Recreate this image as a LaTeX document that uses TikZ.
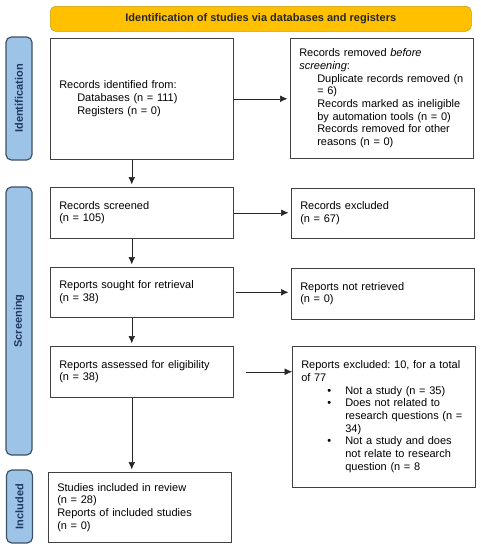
\documentclass[tikz,border=0pt]{standalone}
\usepackage{fontspec}
\setmainfont{Liberation Sans}
\usepackage{tikz}
\usepackage{xcolor}
\usetikzlibrary{arrows.meta}
\frenchspacing
\definecolor{headyellow}{HTML}{FFC000}
\definecolor{headedge}{HTML}{C99A00}
\definecolor{phaseblue}{HTML}{9DC3E6}
\definecolor{phaseedge}{HTML}{3F5166}
\definecolor{phasetext}{HTML}{1F3864}
\newcommand{\flowfont}{\fontsize{8.25}{9.5}\selectfont}
\newcommand{\subline}{\hspace*{13.5pt}}
\newcommand{\bulline}{\hspace*{19.5pt}\makebox[13.5pt][l]{\textbullet}}
\newcommand{\bulcont}{\hspace*{33pt}}
\tikzset{
    flow-box/.style = {draw=black!75, fill=white, thin, rectangle, anchor=north west, text width=123.75pt, inner xsep=6.75pt, inner ysep=2pt, align=left, font=\flowfont},
    phase-box/.style = {draw=phaseedge, fill=phaseblue, line width=0.9pt, rounded corners=4pt, rotate=90, minimum height=19.5pt, inner sep=0pt, text=phasetext, font=\flowfont\bfseries},
    title-box/.style = {draw=headedge, fill=headyellow, rounded corners=4pt, anchor=north west, minimum width=315.75pt, minimum height=18.75pt, inner sep=0pt, text=black!85, font=\flowfont\bfseries},
    flow-arrow/.style = {draw=black!85, thin, -{Latex[length=5.5pt,width=5pt]}},
}
\begin{document}
\begin{tikzpicture}[x=0.75pt, y=-0.75pt]
\useasboundingbox (0,0) rectangle (481,550);
\node[title-box] (title) at (50,6) {Identification of studies via databases and registers};
% phases
\node[phase-box, minimum width=92.25pt] (ident) at (19,98.5) {Identification};
\node[phase-box, minimum width=201pt] (screen) at (19,321) {Screening};
\node[phase-box, minimum width=54.75pt] (incl) at (19.5,506.5) {Included};
% left column
\node[flow-box, minimum height=90.75pt] (found) at (50,38) {Records identified from:\\
    \subline Databases (n = 111)\\
    \subline Registers (n = 0)};
\node[flow-box, minimum height=38.25pt] (screened) at (50,187) {Records screened\\(n = 105)};
\node[flow-box, minimum height=37.5pt] (sought) at (50,267) {Reports sought for retrieval\\(n = 38)};
\node[flow-box, minimum height=38.25pt] (assessed) at (50,346) {Reports assessed for eligibility\\(n = 38)};
\node[flow-box, minimum height=52.5pt] (included) at (48,472) {Studies included in review\\(n = 28)\\Reports of included studies\\(n = 0)};
% right column
\node[flow-box, minimum height=90pt] (removed) at (290,38) {Records removed \textit{before}\\
    \textit{screening}:\\
    \subline Duplicate records removed (n\\
    \subline = 6)\\
    \subline Records marked as ineligible\\
    \subline by automation tools (n = 0)\\
    \subline Records removed for other\\
    \subline reasons (n = 0)};
\node[flow-box, minimum height=37.5pt] (excluded) at (291,188) {Records excluded\\(n = 67)};
\node[flow-box, minimum height=38.25pt] (notret) at (291,268) {Reports not retrieved\\(n = 0)};
\node[flow-box, minimum height=105.75pt] (repexcl) at (292,346) {Reports excluded: 10, for a total\\
    of 77\\
    \bulline Not a study (n = 35)\\
    \bulline Does not related to\\
    \bulcont research questions (n =\\
    \bulcont 34)\\
    \bulline Not a study and does\\
    \bulcont not relate to research\\
    \bulcont question (n = 8};
% arrows
\draw[flow-arrow] (found.east) -- ([xshift=-2pt]found.east -| removed.west);
\draw[flow-arrow] (screened.east) -- ([xshift=-2pt]screened.east -| excluded.west);
\draw[flow-arrow] ([xshift=1.5pt]sought.east) -- ([xshift=-2pt]sought.east -| notret.west);
\draw[flow-arrow] ([xshift=9pt]assessed.east) -- (assessed.east -| repexcl.west);
\draw[flow-arrow] ([xshift=-7.5pt]found.south) -- ([xshift=-7.5pt,yshift=2pt]found.south |- screened.north);
\draw[flow-arrow] ([xshift=-7.5pt]screened.south) -- ([xshift=-7.5pt,yshift=2pt]screened.south |- sought.north);
\draw[flow-arrow] ([xshift=-7.5pt]sought.south) -- ([xshift=-7.5pt,yshift=2pt]sought.south |- assessed.north);
\draw[flow-arrow] ([xshift=-7.5pt]assessed.south) -- ([xshift=-7.5pt,yshift=2pt]assessed.south |- included.north);
\end{tikzpicture}
\end{document}
